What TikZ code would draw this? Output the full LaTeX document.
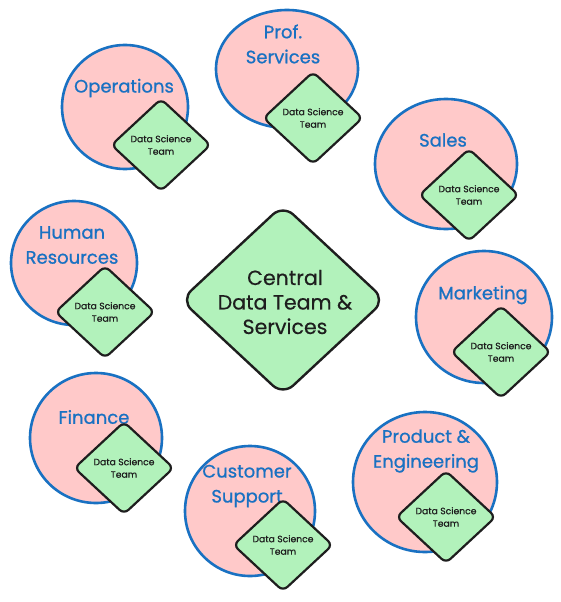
\documentclass[tikz,border=0pt]{standalone}
\usepackage{fontspec}
\setmainfont{Poppins}
\newfontfamily\labelfont{Poppins}[FakeBold=0.8]
\newfontfamily\inkfont{Poppins}[FakeBold=0.5]
\definecolor{exblue}{HTML}{1971C2}
\definecolor{expink}{HTML}{FFC9C9}
\definecolor{exgreen}{HTML}{B2F2BB}
\definecolor{exink}{HTML}{1E1E1E}
\tikzset{
  unit/.style={draw=exblue, fill=expink, line width=2.6pt},
  dsbox/.style={draw=exink, fill=exgreen, line width=2.2pt, rounded corners=6pt},
  centralbox/.style={draw=exink, fill=exgreen, line width=2.4pt, rounded corners=14pt},
  unitlabel/.style={text=exblue, font=\labelfont\fontsize{18}{25}\selectfont, align=center, inner sep=0pt},
  dslabel/.style={text=exink, font=\inkfont\fontsize{9.2}{12.5}\selectfont, align=center, inner sep=0pt},
  centrallabel/.style={text=exink, font=\inkfont\fontsize{20.5}{24.5}\selectfont, align=center, inner sep=0pt}
}
\newcommand\dsteam[3]{%
  \begin{scope}[shift={(#2,#3)}]
    \path[dsbox] (0,-46) -- (49.5,0) -- (0,46) -- (-49.5,0) -- cycle;
    \node[dslabel] (#1) at (0,0) {Data Science\\Team};
  \end{scope}}
\begin{document}
\begin{tikzpicture}[x=1pt,y=-1pt]
\useasboundingbox (0,0) rectangle (560,602);
% Operations
\draw[unit] (125,107) ellipse [x radius=63, y radius=62];
\node[unitlabel] (opsL) at (124,88) {Operations};
\dsteam{opsD}{161}{145}
% Prof. Services
\draw[unit] (287,69) ellipse [x radius=71, y radius=59];
\node[unitlabel] (profL) at (283,44) {Prof.\\Services};
\dsteam{profD}{313}{118}
% Sales
\draw[unit] (446,164) ellipse [x radius=71, y radius=65];
\node[unitlabel] (salesL) at (443,140) {Sales};
\dsteam{salesD}{469}{195}
% Human Resources
\draw[unit] (74,263) ellipse [x radius=63, y radius=62];
\node[unitlabel] (hrL) at (72,245) {Human\\Resources};
\dsteam{hrD}{105}{312}
% Central
\path[centralbox] (283,205) -- (385,300) -- (283,395) -- (181,300) -- cycle;
\node[centrallabel] (central) at (285,302) {Central\\Data Team \&\\Services};
% Marketing
\draw[unit] (484,317) ellipse [x radius=68, y radius=66];
\node[unitlabel] (mktL) at (483,295) {Marketing};
\dsteam{mktD}{501}{352}
% Finance
\draw[unit] (96,438) ellipse [x radius=66, y radius=65];
\node[unitlabel] (finL) at (94,417) {Finance};
\dsteam{finD}{124}{468}
% Customer Support
\draw[unit] (250,511) ellipse [x radius=65, y radius=65];
\node[unitlabel] (csL) at (247,486) {Customer\\Support};
\dsteam{csD}{283}{545}
% Product & Engineering
\draw[unit] (425,482) ellipse [x radius=72, y radius=70];
\node[unitlabel] (peL) at (426,451) {Product \&\\Engineering};
\dsteam{peD}{446}{517}
\end{tikzpicture}
\end{document}
